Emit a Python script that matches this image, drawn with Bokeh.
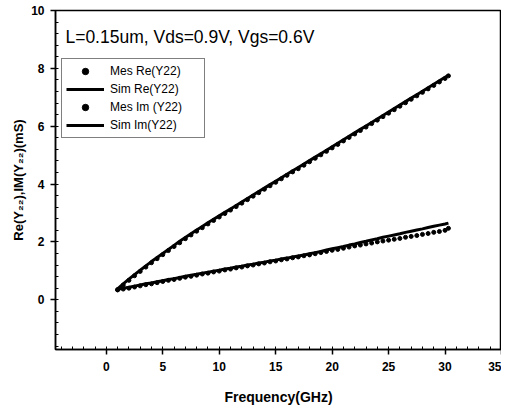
from bokeh.plotting import figure
from bokeh.models import Label, Legend, LegendItem, FixedTicker
from bokeh.embed import file_html
from bokeh.resources import INLINE

freq = [1.0, 1.5, 2.0, 2.5, 3.0, 3.5, 4.0, 4.5, 5.0, 5.5, 6.0, 6.5, 7.0, 7.5, 8.0, 8.5, 9.0, 9.5, 10.0,
        10.5, 11.0, 11.5, 12.0, 12.5, 13.0, 13.5, 14.0, 14.5, 15.0, 15.5, 16.0, 16.5, 17.0, 17.5, 18.0,
        18.5, 19.0, 19.5, 20.0, 20.5, 21.0, 21.5, 22.0, 22.5, 23.0, 23.5, 24.0, 24.5, 25.0, 25.5, 26.0,
        26.5, 27.0, 27.5, 28.0, 28.5, 29.0, 29.5, 30.0, 30.3]

sim_re = [0.38, 0.55, 0.71, 0.87, 1.02, 1.17, 1.32, 1.46, 1.60, 1.74, 1.88, 2.02, 2.15, 2.28, 2.41, 2.53,
          2.66, 2.78, 2.90, 3.02, 3.14, 3.26, 3.38, 3.50, 3.62, 3.74, 3.86, 3.98, 4.10, 4.22, 4.34, 4.46,
          4.57, 4.69, 4.81, 4.93, 5.05, 5.17, 5.29, 5.41, 5.53, 5.65, 5.77, 5.89, 6.01, 6.13, 6.25, 6.37,
          6.49, 6.61, 6.73, 6.85, 6.97, 7.09, 7.21, 7.33, 7.45, 7.57, 7.69, 7.76]

mes_re = [0.35, 0.51, 0.67, 0.83, 0.98, 1.13, 1.28, 1.42, 1.56, 1.70, 1.84, 1.97, 2.11, 2.24, 2.37, 2.49,
          2.62, 2.74, 2.86, 2.98, 3.10, 3.22, 3.34, 3.46, 3.58, 3.70, 3.82, 3.94, 4.06, 4.18, 4.30, 4.42,
          4.53, 4.65, 4.77, 4.89, 5.01, 5.13, 5.25, 5.37, 5.49, 5.61, 5.73, 5.85, 5.97, 6.09, 6.21, 6.33,
          6.45, 6.57, 6.69, 6.81, 6.93, 7.05, 7.17, 7.29, 7.41, 7.53, 7.65, 7.74]

sim_im = [0.36, 0.40, 0.43, 0.47, 0.51, 0.55, 0.58, 0.62, 0.66, 0.70, 0.73, 0.77, 0.81, 0.85, 0.88, 0.92,
          0.95, 0.99, 1.02, 1.06, 1.09, 1.13, 1.16, 1.20, 1.23, 1.27, 1.30, 1.34, 1.37, 1.41, 1.44, 1.48,
          1.51, 1.55, 1.59, 1.63, 1.67, 1.72, 1.76, 1.80, 1.84, 1.89, 1.93, 1.98, 2.02, 2.07, 2.11, 2.16,
          2.20, 2.24, 2.28, 2.33, 2.37, 2.41, 2.45, 2.50, 2.54, 2.58, 2.62, 2.65]

mes_im = [0.34, 0.37, 0.40, 0.44, 0.48, 0.52, 0.55, 0.59, 0.63, 0.67, 0.70, 0.74, 0.78, 0.81, 0.85, 0.89,
          0.92, 0.96, 0.99, 1.03, 1.06, 1.10, 1.13, 1.17, 1.20, 1.24, 1.27, 1.31, 1.34, 1.38, 1.41, 1.45,
          1.48, 1.52, 1.55, 1.59, 1.63, 1.67, 1.71, 1.74, 1.78, 1.82, 1.86, 1.89, 1.93, 1.96, 2.00, 2.03,
          2.06, 2.09, 2.12, 2.16, 2.19, 2.22, 2.26, 2.29, 2.33, 2.36, 2.40, 2.47]

x_ticks = [0, 5, 10, 15, 20, 25, 30, 35]
y_ticks = [0, 2, 4, 6, 8, 10]
title_text = "L=0.15um, Vds=0.9V, Vgs=0.6V"
legend_labels = ["Mes Re(Y22)", "Sim Re(Y22)", "Mes Im (Y22)", "Sim Im(Y22)"]

FONT = "Liberation Sans"

p = figure(width=501, height=407, output_backend="svg", toolbar_location=None,
           x_range=(-4.5, 35), y_range=(-1.72, 10),
           min_border_left=55, min_border_right=0, min_border_top=10, min_border_bottom=58)
p.background_fill_color = "white"
p.border_fill_color = "white"
p.outline_line_color = "black"
p.outline_line_width = 1.5
p.xgrid.visible = False
p.ygrid.visible = False

p.xaxis.ticker = FixedTicker(ticks=x_ticks, minor_ticks=[i for i in range(-4, 36)])
p.yaxis.ticker = FixedTicker(ticks=y_ticks, minor_ticks=[round(-1.6 + 0.4 * i, 2) for i in range(30)])

for ax in (p.xaxis[0], p.yaxis[0]):
    ax.axis_line_color = "black"
    ax.axis_line_width = 1.5
    ax.major_tick_in = 0
    ax.major_tick_out = 5
    ax.major_tick_line_width = 1.5
    ax.minor_tick_in = 3
    ax.minor_tick_out = 0
    ax.minor_tick_line_width = 1
    ax.major_label_text_font = FONT
    ax.major_label_text_font_style = "bold"
    ax.major_label_text_font_size = "12px"
    ax.major_label_text_color = "black"
    ax.axis_label_text_font = FONT
    ax.axis_label_text_font_style = "bold"
    ax.axis_label_text_color = "black"

p.xaxis.axis_label = "Frequency(GHz)"
p.xaxis.axis_label_text_font_size = "14px"
p.xaxis.major_label_standoff = 7
p.xaxis.axis_label_standoff = 15
p.yaxis.axis_label = "Re(Y\u2082\u2082),IM(Y\u2082\u2082)(mS)"
p.yaxis.axis_label_text_font_size = "13px"
p.yaxis.major_label_standoff = 6
p.yaxis.axis_label_standoff = 2

r_mes_re = p.scatter(freq, mes_re, marker="circle", size=4, color="black")
r_mes_im = p.scatter(freq, mes_im, marker="circle", size=4, color="black")
r_sim_re = p.line(freq, sim_re, line_width=3, color="black")
r_sim_im = p.line(freq, sim_im, line_width=3, color="black")

p.add_layout(Label(x=-3.62, y=9.10, text=title_text, text_font=FONT, text_font_size="17.5px",
                   text_baseline="middle", text_color="black"))

legend = Legend(items=[
    LegendItem(label=legend_labels[0], renderers=[r_mes_re]),
    LegendItem(label=legend_labels[1], renderers=[r_sim_re]),
    LegendItem(label=legend_labels[2], renderers=[r_mes_im]),
    LegendItem(label=legend_labels[3], renderers=[r_sim_im]),
], location=(6, 211))
legend.label_text_font = FONT
legend.label_text_font_size = "12px"
legend.label_text_color = "black"
legend.glyph_width = 38
legend.glyph_height = 16
legend.label_height = 16
legend.label_width = 90
legend.label_standoff = 6
legend.spacing = 2
legend.padding = 4
legend.margin = 0
legend.border_line_color = "black"
legend.border_line_width = 1
legend.background_fill_alpha = 1
p.add_layout(legend)

open("out.html", "w").write(file_html(p, INLINE))
